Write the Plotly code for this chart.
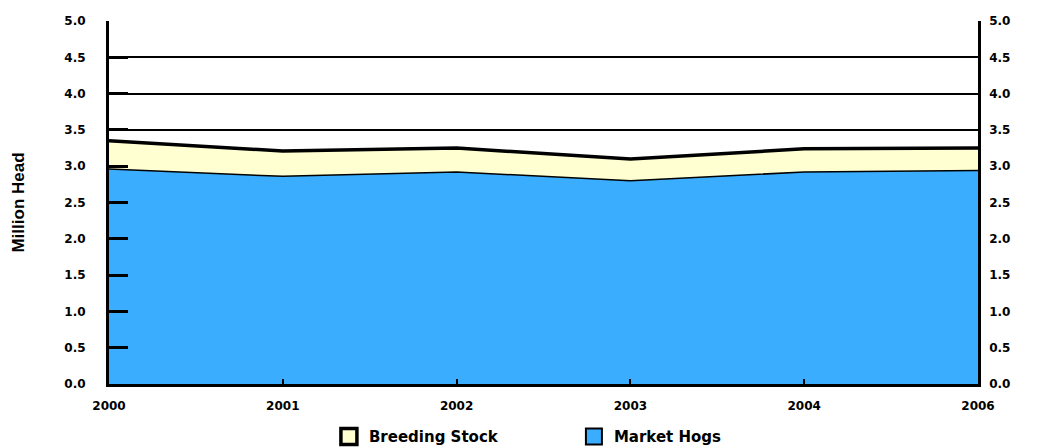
import plotly.graph_objects as go

years = ["2000", "2001", "2002", "2003", "2004", "2006"]
market_hogs = [2.96, 2.86, 2.92, 2.80, 2.92, 2.94]
breeding_stock = [0.39, 0.35, 0.33, 0.30, 0.32, 0.31]
y_ticks = [0.0, 0.5, 1.0, 1.5, 2.0, 2.5, 3.0, 3.5, 4.0, 4.5, 5.0]

blue = "#3AADFF"
cream = "#FFFFD2"
tick_font = dict(family="DejaVu Sans", size=12, color="black", weight="bold")

fig = go.Figure()
fig.add_trace(go.Scatter(
    x=years, y=market_hogs, name="Market Hogs", stackgroup="one",
    mode="lines", line=dict(color="black", width=1.5),
    fillcolor=blue, showlegend=False,
))
fig.add_trace(go.Scatter(
    x=years, y=breeding_stock, name="Breeding Stock", stackgroup="one",
    mode="lines", line=dict(color="black", width=3.5),
    fillcolor=cream, showlegend=False,
))
# legend swatches
fig.add_trace(go.Scatter(x=[None], y=[None], name="Breeding Stock", mode="markers",
                         marker=dict(symbol="square", size=19, color=cream,
                                     line=dict(color="black", width=3.5))))
fig.add_trace(go.Scatter(x=[None], y=[None], name="Market Hogs", mode="markers",
                         marker=dict(symbol="square", size=19, color=blue,
                                     line=dict(color="black", width=2))))
# invisible trace for right axis
fig.add_trace(go.Scatter(x=years, y=market_hogs, yaxis="y2", mode="none",
                         showlegend=False, hoverinfo="skip"))

fig.update_layout(
    width=1031, height=440,
    margin=dict(l=101, r=61, t=13, b=64, autoexpand=False),
    paper_bgcolor="white", plot_bgcolor="white",
    showlegend=True,
    legend=dict(orientation="h", x=0.535, xanchor="center", y=-0.145, yanchor="middle",
                traceorder="normal", entrywidth=200,
                font=dict(family="DejaVu Sans", size=15, color="black", weight="bold"),
                itemsizing="trace"),
    xaxis=dict(type="category", range=[0, 5], showgrid=False, automargin=False,
               showline=True, linecolor="black", linewidth=3,
               ticks="inside", ticklen=5, tickwidth=1.5, tickcolor="black",
               tickfont=tick_font, ticklabelstandoff=9),
    yaxis=dict(range=[0, 5], tickvals=y_ticks, ticktext=[f"{v:.1f}" for v in y_ticks],
               showgrid=True, gridcolor="black", gridwidth=1.5, automargin=False,
               showline=True, linecolor="black", linewidth=3,
               ticks="inside", ticklen=19, tickwidth=3, tickcolor="black",
               tickfont=tick_font, ticklabelstandoff=18, zeroline=False,
               title=dict(text="Million Head", standoff=36,
                          font=dict(family="Liberation Sans Narrow, Liberation Sans", size=17,
                                    color="black", weight="bold"))),
    yaxis2=dict(range=[0, 5], overlaying="y", side="right", automargin=False,
                tickvals=y_ticks, ticktext=[f"{v:.1f}" for v in y_ticks],
                showgrid=False, showline=True, linecolor="black", linewidth=2.5,
                ticks="", tickfont=tick_font, ticklabelstandoff=6, zeroline=False),
)

fig.write_html("out.html")
